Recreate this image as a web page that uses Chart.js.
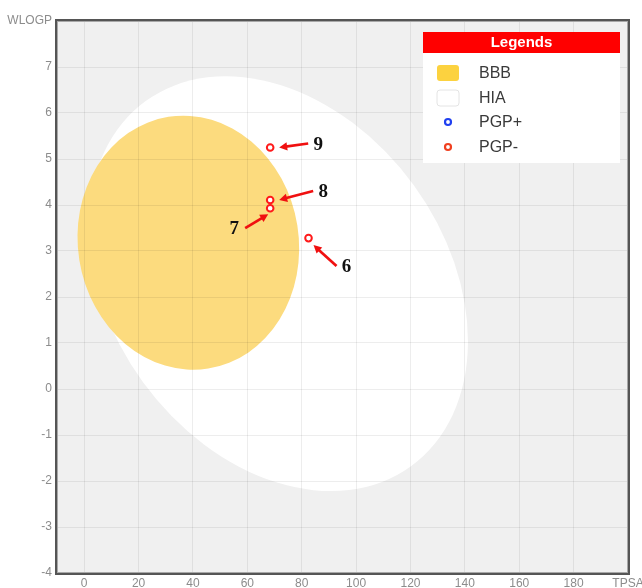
<!DOCTYPE html>
<html><head><meta charset="utf-8">
<script src="https://cdn.jsdelivr.net/npm/chart.js@4"></script>
<style>html,body{margin:0;padding:0;background:#fff;overflow:hidden}</style>
</head><body>
<canvas id="c" width="642" height="588"></canvas>
<script>
// ---- data ----
const xTickValues = [0, 20, 40, 60, 80, 100, 120, 140, 160, 180, 200];
const xTickLabels = ['0', '20', '40', '60', '80', '100', '120', '140', '160', '180', 'TPSA'];
const yTickValues = [-4, -3, -2, -1, 0, 1, 2, 3, 4, 5, 6, 7, 8];
const yTickLabels = ['-4', '-3', '-2', '-1', '0', '1', '2', '3', '4', '5', '6', '7', 'WLOGP'];
const compoundLabels = ['6', '7', '8', '9'];
const pgpMinusTPSA = [82.5, 68.4, 68.4, 68.4];
const pgpMinusWLOGP = [3.28, 3.93, 4.11, 5.25];
const pgpPlusTPSA = [];
const pgpPlusWLOGP = [];
// egg regions: centre TPSA, centre WLOGP, semi-axis (TPSA units), semi-axis (WLOGP units)
const bbbYolk = [38.3, 3.18, 40.6, 2.77];
const hiaWhite = [71.4, 2.29, 83.0, 3.64];
const legendLabels = ['BBB', 'HIA', 'PGP+', 'PGP-'];

// ---- styles ----
const yolkRotationDeg = -9;
const whiteRotationDeg = 54;
const yolkColor = '#fcdb7e';
const tickColor = '#8c8c8c';
// arrow offsets in px relative to each point: [headDx, headDy, tailDx, tailDy, labelDx, labelDy]
const arrowOffsets = [
  [5, 7, 28, 28, 38, 29],
  [-2, 6, -25, 20, -36, 21],
  [9, 0, 43, -9, 53, -8],
  [9, 0, 38, -4, 48, -2]
];

function drawEgg(chart, e, rotDeg, color) {
  const {ctx, scales: {x, y}} = chart;
  const cx = x.getPixelForValue(e[0]), cy = y.getPixelForValue(e[1]);
  const rx = Math.abs(x.getPixelForValue(e[0] + e[2]) - cx);
  const ry = Math.abs(y.getPixelForValue(e[1] + e[3]) - cy);
  ctx.beginPath();
  ctx.ellipse(cx, cy, rx, ry, rotDeg * Math.PI / 180, 0, 2 * Math.PI);
  ctx.fillStyle = color;
  ctx.fill();
}

const eggPlugin = {
  id: 'egg',
  beforeDraw(chart) {
    const {ctx, chartArea: a} = chart;
    ctx.save();
    ctx.fillStyle = '#f0f0f0';
    ctx.fillRect(a.left, a.top, a.right - a.left, a.bottom - a.top);
    ctx.beginPath();
    ctx.rect(a.left, a.top, a.right - a.left, a.bottom - a.top);
    ctx.clip();
    drawEgg(chart, hiaWhite, whiteRotationDeg, '#ffffff');
    drawEgg(chart, bbbYolk, yolkRotationDeg, yolkColor);
    ctx.restore();
  },
  afterDatasetsDraw(chart) {
    const {ctx} = chart;
    const meta = chart.getDatasetMeta(0);
    ctx.save();
    meta.data.forEach((pt, i) => {
      const o = arrowOffsets[i];
      const hx = pt.x + o[0], hy = pt.y + o[1];
      const tx = pt.x + o[2], ty = pt.y + o[3];
      const ang = Math.atan2(hy - ty, hx - tx);
      const hl = 8, hw = 4.2;
      ctx.strokeStyle = '#f01010';
      ctx.fillStyle = '#f01010';
      ctx.lineWidth = 2.7;
      ctx.beginPath();
      ctx.moveTo(tx, ty);
      ctx.lineTo(hx - Math.cos(ang) * hl * 0.8, hy - Math.sin(ang) * hl * 0.8);
      ctx.stroke();
      ctx.beginPath();
      ctx.moveTo(hx, hy);
      ctx.lineTo(hx - Math.cos(ang) * hl - Math.sin(ang) * hw, hy - Math.sin(ang) * hl + Math.cos(ang) * hw);
      ctx.lineTo(hx - Math.cos(ang) * hl + Math.sin(ang) * hw, hy - Math.sin(ang) * hl - Math.cos(ang) * hw);
      ctx.closePath();
      ctx.fill();
      ctx.fillStyle = '#111';
      ctx.font = 'bold 19px "Liberation Serif", serif';
      ctx.textAlign = 'center';
      ctx.textBaseline = 'middle';
      ctx.fillText(compoundLabels[i], pt.x + o[4], pt.y + o[5]);
    });
    ctx.restore();
  },
  afterDraw(chart) {
    const {ctx, chartArea: a} = chart;
    ctx.save();
    // plot frame
    ctx.strokeStyle = '#555555';
    ctx.lineWidth = 2;
    ctx.strokeRect(a.left - 1, a.top - 1, a.right - a.left + 2, a.bottom - a.top + 2);
    ctx.strokeStyle = '#a8a8a8';
    ctx.lineWidth = 1;
    ctx.strokeRect(a.left + 0.5, a.top + 0.5, a.right - a.left - 1, a.bottom - a.top - 1);
    // legend
    const L = 423, R = 620, T = 32;
    ctx.fillStyle = '#ffffff';
    ctx.fillRect(L, T, R - L, 131);
    ctx.fillStyle = '#ff0000';
    ctx.fillRect(L, T, R - L, 21);
    ctx.fillStyle = '#ffffff';
    ctx.font = 'bold 15px "Liberation Sans", Arial, sans-serif';
    ctx.textAlign = 'center';
    ctx.textBaseline = 'middle';
    ctx.fillText('Legends', (L + R) / 2, T + 11);
    const rows = [73, 98, 122, 147];
    ctx.textAlign = 'left';
    ctx.font = '16px "Liberation Sans", Arial, sans-serif';
    rows.forEach((ry, i) => {
      if (i < 2) {
        ctx.beginPath();
        ctx.roundRect(437, ry - 8, 22, 16, 3);
        ctx.fillStyle = i === 0 ? '#fcd23f' : '#ffffff';
        ctx.fill();
        if (i === 1) { ctx.strokeStyle = '#e4e4e4'; ctx.lineWidth = 1; ctx.stroke(); }
      } else {
        ctx.beginPath();
        ctx.arc(448, ry, 3, 0, 2 * Math.PI);
        ctx.strokeStyle = i === 2 ? '#2040f0' : '#f04020';
        ctx.lineWidth = 2.2;
        ctx.stroke();
      }
      ctx.fillStyle = '#3a3a3a';
      ctx.fillText(legendLabels[i], 479, ry + 1);
    });
    ctx.restore();
  }
};

const tickFont = {size: 12, family: '"Liberation Sans", Arial, sans-serif'};

new Chart(document.getElementById('c'), {
  type: 'scatter',
  data: {
    datasets: [
      {
        label: 'PGP-',
        data: pgpMinusTPSA.map((v, i) => ({x: v, y: pgpMinusWLOGP[i]})),
        pointRadius: 3.3, pointHoverRadius: 3.3,
        borderColor: '#ff1a1a', backgroundColor: '#ffffff', borderWidth: 2
      },
      {
        label: 'PGP+',
        data: pgpPlusTPSA.map((v, i) => ({x: v, y: pgpPlusWLOGP[i]})),
        pointRadius: 3.3, borderColor: '#2040f0', backgroundColor: '#ffffff', borderWidth: 2
      }
    ]
  },
  options: {
    responsive: false,
    animation: false,
    devicePixelRatio: 1,
    layout: {padding: {top: 21, right: 14, left: 0, bottom: 0}},
    plugins: {legend: {display: false}, tooltip: {enabled: false}},
    scales: {
      x: {
        type: 'linear', min: -10, max: 200,
        afterBuildTicks: s => { s.ticks = xTickValues.map(v => ({value: v})); },
        ticks: {
          callback: v => xTickLabels[xTickValues.indexOf(v)],
          color: tickColor, font: tickFont, padding: 3, maxRotation: 0, autoSkip: false
        },
        grid: {color: 'rgba(0,0,0,0.07)', drawTicks: false},
        border: {display: false},
        afterFit: s => { s.height = 15; s.paddingLeft = 0; s.paddingRight = 0; }
      },
      y: {
        type: 'linear', min: -4, max: 8,
        afterBuildTicks: s => { s.ticks = yTickValues.map(v => ({value: v})); },
        ticks: {
          callback: v => yTickLabels[yTickValues.indexOf(v)],
          color: tickColor, font: tickFont, padding: 5, autoSkip: false
        },
        grid: {color: 'rgba(0,0,0,0.07)', drawTicks: false},
        border: {display: false},
        afterFit: s => { s.width = 57; s.paddingTop = 0; s.paddingBottom = 0; }
      }
    }
  },
  plugins: [eggPlugin]
});
</script>
</body></html>
